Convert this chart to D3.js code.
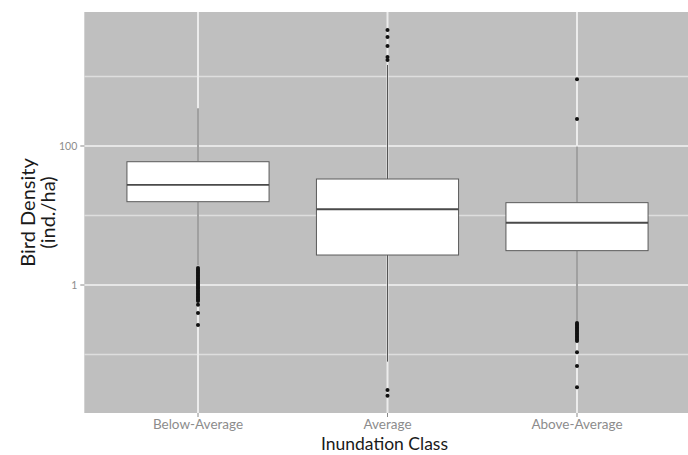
<!DOCTYPE html>
<html>
<head>
<meta charset="utf-8">
<script src="https://cdn.jsdelivr.net/npm/d3@7"></script>
<style>
  html, body { margin: 0; padding: 0; background: #ffffff; }
  svg { display: block; }
</style>
</head>
<body>
<script>
// Inundation classes along the x axis
const categories = ["Below-Average", "Average", "Above-Average"];

// Box-and-whisker statistics per class (bird density, ind./ha)
const whiskerLow  = [1.9, 0.079, 0.296];
const q1          = [15.8, 2.7, 3.12];
const median      = [27.5, 12.3, 7.87];
const q3          = [59.4, 33.5, 15.3];
const whiskerHigh = [349, 1463, 98];

// Outlying observations per class
const outliersBelow = [1.76, 1.66, 1.59, 1.51, 1.44, 1.37, 1.30, 1.24, 1.18, 1.12, 1.07, 1.02, 0.97,
                       0.92, 0.88, 0.83, 0.79, 0.75, 0.72, 0.68, 0.65, 0.62, 0.59, 0.52, 0.396, 0.266];
const outliersAverage = [4670, 3700, 2750, 1910, 1730, 0.0308, 0.0255];
const outliersAbove = [912, 244, 0.284, 0.27, 0.257, 0.245, 0.233, 0.222, 0.211, 0.2, 0.191,
                       0.182, 0.173, 0.164, 0.156, 0.1076, 0.0683, 0.0337];
const outliers = [outliersBelow, outliersAverage, outliersAbove];

// Axis breaks
const majorBreaks = [1, 100];
const minorBreaks = [0.1, 10, 1000];
const tickLabels = ["1", "100"];

const W = 688, H = 455;
const panel = { left: 84.3, right: 690.7, top: 12, bottom: 413 };

const svg = d3.select("body").append("svg").attr("width", W).attr("height", H);

const x = d3.scalePoint()
  .domain(categories)
  .range([panel.left, panel.right])
  .padding(0.6);

const y = d3.scaleLog()
  .domain([0.0144, 8470])
  .range([panel.bottom, panel.top]);

const boxW = x.step() * 0.75;

// panel background
svg.append("rect")
  .attr("x", panel.left).attr("y", panel.top)
  .attr("width", panel.right - panel.left).attr("height", panel.bottom - panel.top)
  .attr("fill", "#bfbfbf");

const grid = svg.append("g");
grid.selectAll("line.minor").data(minorBreaks).join("line")
  .attr("class", "minor")
  .attr("x1", panel.left).attr("x2", panel.right)
  .attr("y1", d => y(d)).attr("y2", d => y(d))
  .attr("stroke", "#dedede").attr("stroke-width", 1.3);
grid.selectAll("line.major").data(majorBreaks).join("line")
  .attr("class", "major")
  .attr("x1", panel.left).attr("x2", panel.right)
  .attr("y1", d => y(d)).attr("y2", d => y(d))
  .attr("stroke", "#e6e6e6").attr("stroke-width", 1.8);
grid.selectAll("line.vmajor").data(categories).join("line")
  .attr("class", "vmajor")
  .attr("x1", d => x(d)).attr("x2", d => x(d))
  .attr("y1", panel.top).attr("y2", panel.bottom)
  .attr("stroke", "#ececec").attr("stroke-width", 2);

// boxes
const boxes = svg.append("g").selectAll("g").data(categories).join("g");

boxes.append("line")
  .attr("x1", d => x(d)).attr("x2", d => x(d))
  .attr("y1", (d, i) => y(whiskerHigh[i])).attr("y2", (d, i) => y(q3[i]))
  .attr("stroke", "#555555").attr("stroke-width", 1);
boxes.append("line")
  .attr("x1", d => x(d)).attr("x2", d => x(d))
  .attr("y1", (d, i) => y(q1[i])).attr("y2", (d, i) => y(whiskerLow[i]))
  .attr("stroke", "#555555").attr("stroke-width", 1);

boxes.append("rect")
  .attr("x", d => x(d) - boxW / 2)
  .attr("width", boxW)
  .attr("y", (d, i) => y(q3[i]))
  .attr("height", (d, i) => y(q1[i]) - y(q3[i]))
  .attr("fill", "#ffffff")
  .attr("stroke", "#5a5a5a").attr("stroke-width", 1);

boxes.append("line")
  .attr("x1", d => x(d) - boxW / 2).attr("x2", d => x(d) + boxW / 2)
  .attr("y1", (d, i) => y(median[i])).attr("y2", (d, i) => y(median[i]))
  .attr("stroke", "#4a4a4a").attr("stroke-width", 1.8);

boxes.each(function (d, i) {
  d3.select(this).selectAll("circle").data(outliers[i]).join("circle")
    .attr("cx", x(d))
    .attr("cy", v => y(v))
    .attr("r", 2)
    .attr("fill", "#111111");
});

// y axis ticks and labels
const yAxis = svg.append("g");
yAxis.selectAll("line").data(majorBreaks).join("line")
  .attr("x1", panel.left - 4).attr("x2", panel.left)
  .attr("y1", d => y(d)).attr("y2", d => y(d))
  .attr("stroke", "#8a8a8a").attr("stroke-width", 1);
yAxis.selectAll("text").data(majorBreaks).join("text")
  .attr("x", panel.left - 7)
  .attr("y", d => y(d))
  .attr("dy", "0.35em")
  .attr("text-anchor", "end")
  .attr("font-family", "Lato, sans-serif")
  .attr("font-size", 10.5)
  .attr("fill", "#8c8c8c")
  .text((d, i) => tickLabels[i]);

// x axis ticks and labels
const xAxis = svg.append("g");
xAxis.selectAll("line").data(categories).join("line")
  .attr("x1", d => x(d)).attr("x2", d => x(d))
  .attr("y1", panel.bottom).attr("y2", panel.bottom + 4)
  .attr("stroke", "#8a8a8a").attr("stroke-width", 1);
xAxis.selectAll("text").data(categories).join("text")
  .attr("x", d => x(d))
  .attr("y", 429)
  .attr("text-anchor", "middle")
  .attr("font-family", "Lato, sans-serif")
  .attr("font-size", 13.5)
  .attr("fill", "#8c8c8c")
  .text(d => d);

// axis titles
svg.append("text")
  .attr("x", (panel.left + panel.right) / 2 - 3)
  .attr("y", 450)
  .attr("text-anchor", "middle")
  .attr("font-family", "Lato, sans-serif")
  .attr("font-size", 17.5)
  .attr("fill", "#1a1a1a")
  .text("Inundation Class");

const yTitle = svg.append("text")
  .attr("transform", `translate(0, ${(panel.top + panel.bottom) / 2}) rotate(-90)`)
  .attr("text-anchor", "middle")
  .attr("font-family", "Lato, sans-serif")
  .attr("font-size", 20)
  .attr("fill", "#1a1a1a");
yTitle.append("tspan").attr("x", 0).attr("y", 35).text("Bird Density");
yTitle.append("tspan").attr("x", 0).attr("y", 55).text("(ind./ha)");
</script>
</body>
</html>
